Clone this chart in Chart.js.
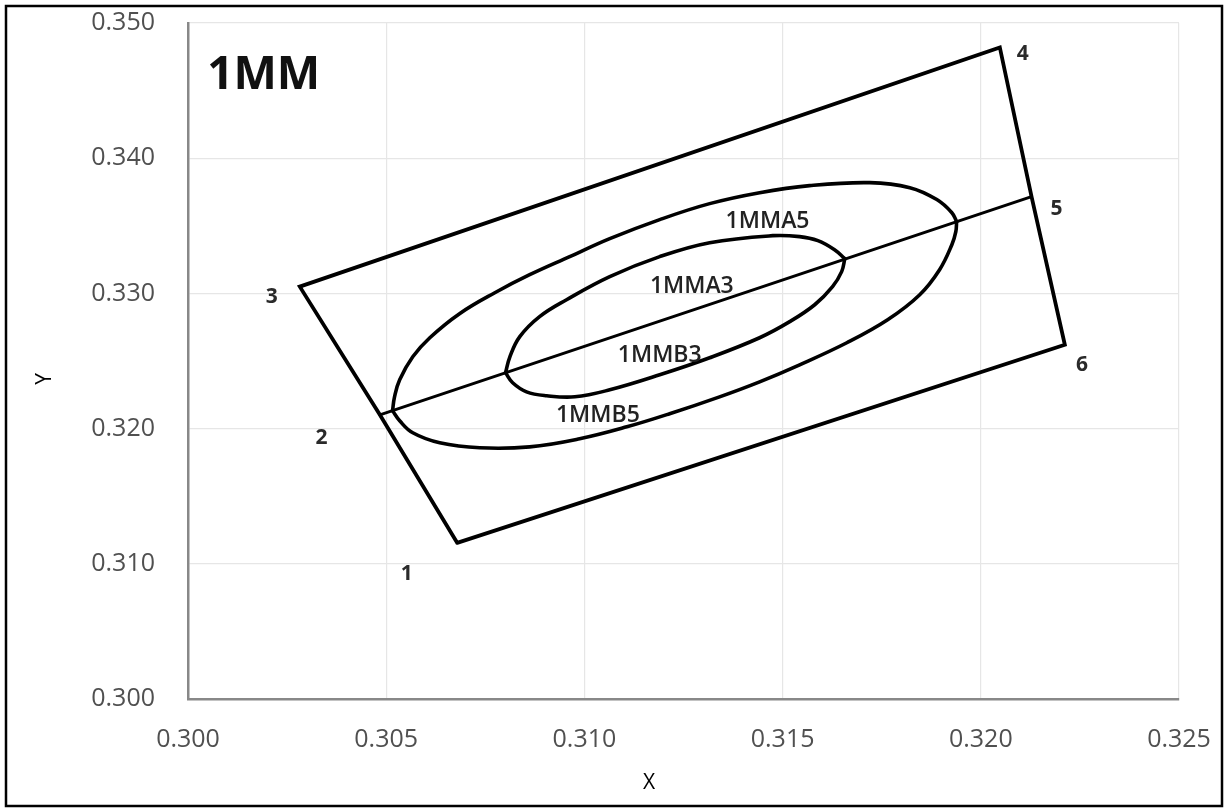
<!DOCTYPE html>
<html><head><meta charset="utf-8">
<script src="https://cdn.jsdelivr.net/npm/chart.js@4/dist/chart.umd.min.js"></script>
<style>html,body{margin:0;padding:0;background:#fff;}canvas{display:block;}</style>
</head><body>
<canvas id="c" width="1227" height="808"></canvas>
<script>
// ---- axis ticks ----
const xTicks = [0.300, 0.305, 0.310, 0.315, 0.320, 0.325];
const xTickLabels = ['0.300', '0.305', '0.310', '0.315', '0.320', '0.325'];
const yTicks = [0.300, 0.310, 0.320, 0.330, 0.340, 0.350];
const yTickLabels = ['0.300', '0.310', '0.320', '0.330', '0.340', '0.350'];
const xAxisTitle = 'X';
const yAxisTitle = 'Y';

// ---- boundary polygon 1-2-3-4-5-6-1 ----
const boundaryX = [0.30679, 0.30484, 0.30282, 0.32048, 0.32128, 0.32212, 0.30679];
const boundaryY = [0.31155, 0.32102, 0.33050, 0.34819, 0.33716, 0.32620, 0.31155];
// ---- centre line 2-5 ----
const centerX = [0.30484, 0.32128];
const centerY = [0.32102, 0.33716];

// ---- 1MMA5 (outer, upper) ----
const a5X = [0.30516, 0.30521, 0.30534, 0.30567, 0.30610, 0.30685, 0.30774, 0.30862, 0.30963, 0.31064, 0.31190, 0.31316, 0.31442, 0.31568, 0.31720, 0.31821, 0.31889, 0.31927, 0.31939];
const a5Y = [0.32132, 0.32235, 0.32361, 0.32531, 0.32672, 0.32850, 0.33005, 0.33138, 0.33272, 0.33405, 0.33546, 0.33664, 0.33745, 0.33797, 0.33819, 0.33782, 0.33694, 0.33597, 0.33531];
// ---- 1MMB5 (outer, lower) ----
const b5X = [0.30516, 0.30534, 0.30567, 0.30635, 0.30736, 0.30862, 0.30988, 0.31107, 0.31215, 0.31341, 0.31442, 0.31543, 0.31662, 0.31765, 0.31846, 0.31896, 0.31927, 0.31937, 0.31939];
const b5Y = [0.32132, 0.32058, 0.31969, 0.31895, 0.31858, 0.31865, 0.31925, 0.32013, 0.32110, 0.32235, 0.32346, 0.32472, 0.32635, 0.32805, 0.32990, 0.33175, 0.33360, 0.33457, 0.33531];
// ---- 1MMA3 (inner, upper) ----
const a3X = [0.30801, 0.30812, 0.30837, 0.30887, 0.30955, 0.31064, 0.31190, 0.31316, 0.31475, 0.31543, 0.31589, 0.31631, 0.31657];
const a3Y = [0.32413, 0.32531, 0.32680, 0.32828, 0.32953, 0.33124, 0.33272, 0.33375, 0.33427, 0.33420, 0.33390, 0.33323, 0.33257];
// ---- 1MMB3 (inner, lower) ----
const b3X = [0.30801, 0.30819, 0.30854, 0.30905, 0.30976, 0.31064, 0.31190, 0.31316, 0.31442, 0.31518, 0.31581, 0.31626, 0.31649, 0.31657];
const b3Y = [0.32413, 0.32339, 0.32272, 0.32243, 0.32235, 0.32287, 0.32398, 0.32524, 0.32672, 0.32791, 0.32916, 0.33050, 0.33161, 0.33257];

// ---- annotations (data coordinates) ----
const cornerLabels = ['1', '2', '3', '4', '5', '6'];
const cornerLabelX = [0.30552, 0.30337, 0.30211, 0.32106, 0.32191, 0.32255];
const cornerLabelY = [0.30925, 0.31932, 0.32976, 0.34774, 0.33627, 0.32472];
const curveLabels = ['1MMA5', '1MMA3', '1MMB3', '1MMB5'];
const curveLabelX = [0.31462, 0.31271, 0.31190, 0.31034];
const curveLabelY = [0.33531, 0.33050, 0.32539, 0.32095];
const panelTitle = '1MM';
const panelTitleX = 0.30191;
const panelTitleY = 0.34611;

const pts = (xs, ys) => xs.map((x, i) => ({ x: x, y: ys[i] }));
const FONT = '"Open Sans", "Liberation Sans", sans-serif';
Chart.defaults.font.family = FONT;

const lineDs = (label, data, width, tension) => ({
  label, data, showLine: true, borderColor: '#000', backgroundColor: '#000',
  borderWidth: width, pointRadius: 0, pointHoverRadius: 0, fill: false,
  tension: tension, borderCapStyle: 'round', borderJoinStyle: 'miter'
});

const framePlugin = {
  id: 'frame',
  beforeDraw(chart) {
    const ctx = chart.ctx;
    ctx.save();
    ctx.fillStyle = '#fff';
    ctx.fillRect(0, 0, chart.width, chart.height);
    ctx.restore();
  },
  afterDraw(chart) {
    const ctx = chart.ctx;
    ctx.save();
    ctx.strokeStyle = '#000';
    ctx.lineWidth = 2.5;
    ctx.strokeRect(6, 6, 1216, 800);
    ctx.fillStyle = '#000';
    ctx.font = '21px ' + FONT;
    ctx.textAlign = 'center';
    ctx.textBaseline = 'middle';
    ctx.fillText(xAxisTitle, 649, 783);
    ctx.translate(45, 379);
    ctx.rotate(-Math.PI / 2);
    ctx.fillText(yAxisTitle, 0, 0);
    ctx.restore();
  }
};

const annotPlugin = {
  id: 'annot',
  afterDatasetsDraw(chart) {
    const ctx = chart.ctx, xs = chart.scales.x, ys = chart.scales.y;
    ctx.save();
    ctx.textAlign = 'center';
    ctx.textBaseline = 'middle';
    ctx.fillStyle = '#111';
    ctx.font = 'bold 46px ' + FONT;
    ctx.fillText(panelTitle, xs.getPixelForValue(panelTitleX), ys.getPixelForValue(panelTitleY));
    ctx.fillStyle = '#2a2a2a';
    ctx.font = 'bold 21px ' + FONT;
    cornerLabels.forEach((t, i) => ctx.fillText(t, xs.getPixelForValue(cornerLabelX[i]), ys.getPixelForValue(cornerLabelY[i])));
    ctx.fillStyle = '#222';
    ctx.font = '600 23px ' + FONT;
    curveLabels.forEach((t, i) => ctx.fillText(t, xs.getPixelForValue(curveLabelX[i]), ys.getPixelForValue(curveLabelY[i])));
    ctx.restore();
  }
};

new Chart(document.getElementById('c'), {
  type: 'scatter',
  data: {
    datasets: [
      lineDs('boundary', pts(boundaryX, boundaryY), 3.8, 0),
      lineDs('centre', pts(centerX, centerY), 3, 0),
      lineDs('1MMA5', pts(a5X, a5Y), 3.6, 0.4),
      lineDs('1MMB5', pts(b5X, b5Y), 3.6, 0.4),
      lineDs('1MMA3', pts(a3X, a3Y), 3.6, 0.4),
      lineDs('1MMB3', pts(b3X, b3Y), 3.6, 0.4)
    ]
  },
  options: {
    responsive: false,
    animation: false,
    devicePixelRatio: 1,
    layout: { padding: { top: 23, right: 48, left: 0, bottom: 0 } },
    plugins: { legend: { display: false }, tooltip: { enabled: false } },
    scales: {
      x: {
        type: 'linear', min: 0.300, max: 0.325,
        afterBuildTicks: s => { s.ticks = xTicks.map(v => ({ value: v })); },
        afterFit: s => { s.height = 109; s.paddingLeft = 0; s.paddingRight = 0; },
        grid: { color: '#e6e6e6', lineWidth: 1.2, drawTicks: false },
        border: { color: '#888', width: 2.5 },
        ticks: { callback: (v, i) => xTickLabels[i], color: '#505050', padding: 26, font: { size: 25, weight: 500 } }
      },
      y: {
        type: 'linear', min: 0.300, max: 0.350,
        afterBuildTicks: s => { s.ticks = yTicks.map(v => ({ value: v })); },
        afterFit: s => { s.width = 188; s.paddingTop = 0; s.paddingBottom = 0; },
        grid: { color: '#e6e6e6', lineWidth: 1.2, drawTicks: false },
        border: { color: '#888', width: 2.5 },
        ticks: { callback: (v, i) => yTickLabels[i], color: '#505050', padding: 33, font: { size: 25, weight: 500 } }
      }
    }
  },
  plugins: [framePlugin, annotPlugin]
});
</script>
</body></html>
